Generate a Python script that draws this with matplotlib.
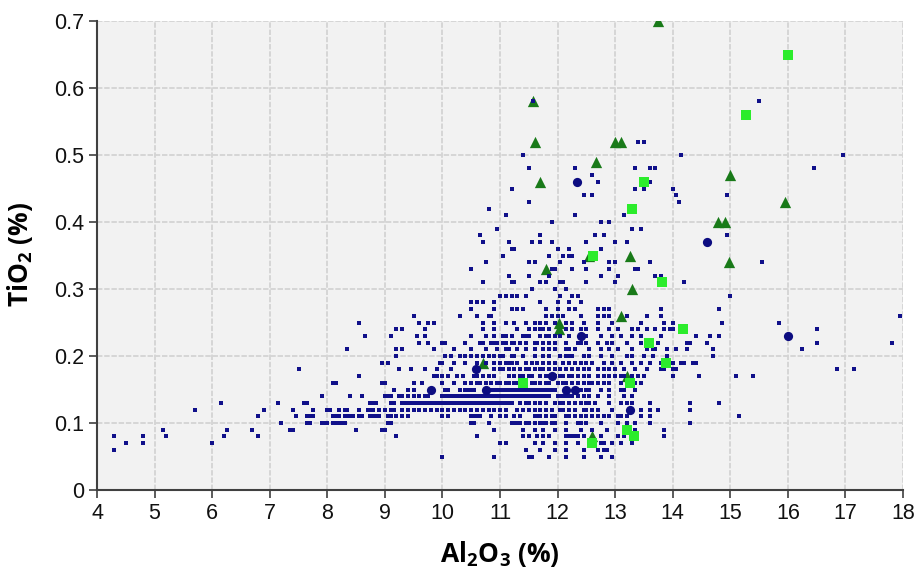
import numpy as np
import matplotlib
matplotlib.use("Agg")
import matplotlib.pyplot as plt

# small navy dots: Al2O3 values for every TiO2 level (TiO2 read in steps of 0.01)
al_005 = [10.0, 10.9, 11.5, 11.55, 11.85, 12.15, 12.45, 12.75, 12.95]
al_006 = [4.3, 11.45, 11.7, 11.95, 12.15, 12.45, 12.7, 12.8, 12.85]
al_007 = [4.5, 4.8, 6.0, 11.0, 11.1, 11.6, 11.75, 11.95, 12.15, 12.35, 12.75, 12.8, 12.95, 13.1, 13.3]
al_008 = [4.3, 4.8, 5.2, 6.2, 6.8, 9.2, 10.6, 11.4, 11.5, 11.65, 11.75, 11.85, 12.15, 12.2, 12.25,
          12.3, 12.35, 12.45, 12.75, 13.05, 13.15, 13.85]
al_009 = [5.15, 6.25, 6.7, 7.35, 7.4, 8.5, 8.95, 9.0, 10.9, 11.4, 11.6, 11.75, 11.95, 12.15, 12.4,
          12.6, 12.85, 13.35, 13.85]
al_010 = [7.2, 7.65, 7.7, 7.9, 7.95, 8.0, 8.1, 8.15, 8.2, 8.25, 8.3, 9.05, 9.1, 10.5, 10.55, 10.8,
          11.2, 11.25, 11.3, 11.35, 11.45, 11.5, 11.6, 11.7, 11.75, 11.8, 11.9, 11.95, 12.15, 12.35,
          12.4, 12.5, 12.75, 13.05, 13.2, 13.35, 13.6, 14.3]
al_011 = [6.8, 7.45, 7.65, 7.7, 7.75, 8.1, 8.15, 8.2, 8.3, 8.35, 8.4, 8.45, 8.55, 8.6, 8.75, 8.8,
          8.85, 8.9, 9.05, 9.1, 9.2, 9.3, 9.4, 10.0, 10.1, 10.5, 10.55, 10.6, 10.65, 10.85, 11.0,
          11.1, 11.25, 11.35, 11.6, 11.65, 11.7, 11.8, 11.9, 11.95, 12.15, 12.2, 12.3,
          12.4, 12.5, 12.6, 12.7, 12.8, 12.9, 13.05, 13.1, 13.2, 13.45, 13.6, 15.15]
al_012 = [5.7, 6.9, 7.4, 7.75, 8.0, 8.05, 8.2, 8.3, 8.35, 8.55, 8.7, 8.75, 8.8, 8.9,
          9.0, 9.1, 9.15, 9.3, 9.4, 9.5, 9.6, 9.7, 9.8, 9.9, 10.0, 10.1, 10.2, 10.3,
          10.4, 10.5, 10.6, 10.7, 10.8, 10.9, 11.0, 11.1, 11.3, 11.4, 11.5, 11.6, 11.7, 11.8, 11.9,
          12.05, 12.1, 12.2, 12.3, 12.45, 12.5, 12.6, 12.7, 12.95, 13.45, 13.6, 13.75, 14.3]
al_013 = [6.15, 7.15, 7.6, 7.65, 8.75, 8.8, 8.85, 9.1, 9.15, 9.3, 9.35, 9.4, 9.45, 9.5, 9.55,
          9.6, 9.65, 9.7, 9.75, 9.8, 9.85, 9.9, 9.95, 10.0, 10.05, 10.1, 10.15, 10.2, 10.25, 10.3,
          10.35, 10.4, 10.45, 10.5, 10.55, 10.6, 10.65, 10.7, 10.75, 10.8, 10.85, 10.9, 10.95, 11.0,
          11.05, 11.1, 11.15, 11.2, 11.35, 11.45, 11.5, 11.6, 11.7, 11.8, 11.95,
          12.05, 12.1, 12.2, 12.3, 12.4, 12.5, 12.55, 12.65, 12.9, 13.1, 13.2,
          13.3, 13.6, 14.3, 14.8]
al_014 = [7.9, 8.4, 8.6, 9.0, 9.05, 9.1, 9.25, 9.3, 9.4, 9.5, 9.6, 9.7, 9.75, 10.0, 10.05, 10.1,
          10.15, 10.2, 10.25, 10.3, 10.35, 10.4, 10.45, 10.5, 10.55, 10.6, 10.65, 10.7, 10.75, 10.8,
          10.85, 10.9, 10.95, 11.0, 11.05, 11.1, 11.15, 11.2, 11.25, 11.3, 11.35, 11.4, 11.45, 11.5,
          11.55, 11.6, 11.65, 11.7, 11.75, 11.8, 11.85, 12.0, 12.05, 12.1, 12.15, 12.2, 12.25,
          12.35, 12.45, 12.55, 12.7, 12.9, 13.15, 13.3]
al_015 = [9.15, 9.4, 9.5, 10.05, 10.1, 10.3, 10.4, 10.45, 10.5, 10.55, 10.8, 10.85, 10.9,
          10.95, 11.0, 11.05, 11.1, 11.15, 11.2, 11.25, 11.3, 11.35, 11.4, 11.45, 11.5, 11.55, 11.6,
          11.65, 11.7, 11.75, 11.8, 11.85, 11.9, 11.95, 12.4, 12.5, 12.55, 12.75, 12.9, 13.1,
          13.15, 13.35]
al_016 = [8.1, 8.15, 8.95, 9.0, 9.5, 9.65, 10.0, 10.2, 10.4, 10.5, 10.6, 10.65,
          10.75, 10.85, 10.95, 11.0, 11.1, 11.15, 11.25, 11.3, 11.45, 11.55, 11.6, 11.7, 11.8,
          11.85, 12.0, 12.1, 12.15, 12.25, 12.35, 12.45, 12.55, 12.6, 12.7, 12.8, 12.9,
          13.1, 13.35, 13.45]
al_017 = [8.55, 9.85, 9.9, 10.0, 10.1, 10.25, 10.35, 10.55, 10.6, 10.7, 10.8, 10.9, 11.15,
          11.25, 11.35, 11.4, 11.5, 11.55, 11.7, 11.8, 11.85, 11.95, 12.05, 12.1, 12.2, 12.25, 12.35,
          12.45, 12.55, 12.7, 12.8, 12.9, 13.0, 13.1, 13.15, 13.3, 13.4, 13.5, 14.0, 14.45, 15.1, 15.4]
al_018 = [7.5, 9.25, 9.45, 9.7, 9.9, 10.15, 10.9, 11.0, 11.05, 11.15, 11.25, 11.35, 11.45, 11.5,
          11.6, 11.7, 11.75, 11.85, 11.95, 12.05, 12.15, 12.25, 12.35, 12.45, 12.55, 12.7, 12.8,
          12.9, 13.0, 13.15, 13.35, 13.55, 13.8, 13.85, 14.0, 14.05, 16.85, 17.15]
al_019 = [8.95, 9.05, 9.95, 10.0, 10.2, 10.4, 10.6, 10.75, 10.9, 11.0, 11.1, 11.15, 11.2,
          11.3, 11.45, 11.55, 11.65, 11.75, 11.85, 11.95, 12.1, 12.2, 12.3, 12.4, 12.5, 12.6, 12.8,
          12.95, 13.1, 13.3, 13.45, 13.6, 13.8, 14.0, 14.15, 14.2, 14.35, 14.4]
al_020 = [9.2, 10.05, 10.15, 10.3, 10.4, 10.5, 10.6, 10.7, 10.8, 10.9, 11.0, 11.05,
          11.2, 11.25, 11.4, 11.6, 11.75, 11.85, 12.05, 12.15, 12.2, 12.25, 12.45,
          12.55, 12.75, 12.95, 13.2, 13.3, 13.5, 13.65, 13.9, 14.7]
al_021 = [8.35, 9.2, 9.3, 9.85, 10.2, 10.5, 10.75, 10.95, 11.1, 11.15, 11.3, 11.45, 11.6, 11.75,
          11.85, 11.95, 12.15, 12.2, 12.3, 12.55, 12.75, 12.9, 13.05, 13.3, 13.55, 13.65, 13.7, 13.9,
          14.05, 14.25, 14.7, 16.25]
al_022 = [9.6, 9.75, 10.0, 10.05, 10.4, 10.65, 10.7, 10.85, 10.9, 10.95, 11.05, 11.1, 11.2, 11.25,
          11.35, 11.45, 11.6, 11.65, 11.75, 11.85, 11.95, 12.15, 12.35, 12.4, 12.5, 12.7, 12.85,
          12.95, 13.2, 13.45, 13.75, 14.25, 14.3, 14.6, 16.5, 17.8]
al_023 = [8.65, 9.1, 9.55, 9.7, 10.5, 10.75, 10.9, 11.05, 11.1, 11.2, 11.4, 11.45, 11.5, 11.7,
          11.8, 11.85, 11.95, 12.05, 12.2, 12.45, 12.5, 12.75, 12.95, 13.1, 13.3, 13.45, 13.8, 14.4,
          14.65, 14.8]
al_024 = [9.2, 9.3, 9.7, 10.7, 10.9, 11.3, 11.5, 11.6, 11.7, 11.75, 11.85, 12.15, 12.25, 12.4,
          12.5, 12.7, 12.9, 13.05, 13.3, 13.4, 13.55, 13.7, 13.85, 13.95, 14.0, 16.5]
al_025 = [8.55, 9.6, 9.75, 9.85, 10.7, 10.9, 11.1, 11.25, 11.45, 11.6, 11.7, 11.8, 11.95, 12.15,
          12.25, 12.45, 12.7, 12.95, 13.45, 13.85, 14.0, 14.85, 15.85]
al_026 = [9.5, 10.3, 10.6, 10.8, 10.85, 11.8, 11.9, 12.0, 12.1, 12.4, 12.7, 12.8, 12.9, 13.2,
          13.55, 13.8, 17.95]
al_027 = [10.5, 10.9, 11.2, 11.3, 11.4, 11.8, 12.0, 12.2, 12.3, 12.7, 12.8, 12.9, 13.8, 14.8]
al_028 = [10.5, 10.6, 10.7, 10.9, 11.7, 12.0, 12.2, 12.4]
al_029 = [11.0, 11.1, 11.2, 11.3, 11.45, 12.05, 12.25, 12.35, 15.0]
al_030 = [11.55, 11.95, 12.15]
al_031 = [10.7, 11.2, 11.25, 11.7, 11.8, 12.05, 12.1, 12.5, 13.0, 14.2]
al_032 = [11.15, 11.5, 11.85, 12.75, 13.05, 13.7, 13.8]
al_033 = [10.5, 11.9, 11.95, 12.25, 12.5, 12.9, 13.35, 13.4]
al_034 = [10.75, 11.5, 11.6, 12.05, 12.45, 12.9, 13.0, 13.6, 15.55]
al_035 = [11.05, 11.85, 12.1, 12.2, 12.25]
al_036 = [11.2, 11.25, 12.0, 12.2, 12.75]
al_037 = [10.7, 11.15, 11.55, 11.7, 11.9, 12.5, 13.0, 13.2]
al_038 = [10.65, 11.7, 12.65, 12.8, 14.95]
al_039 = [10.95, 13.3, 13.45]
al_040 = [11.9, 12.75, 12.9]
al_041 = [11.1, 12.3, 13.15]
al_042 = [10.8]
al_043 = [11.5, 14.1]
al_044 = [12.45, 12.6, 14.05, 14.95]
al_045 = [11.2, 13.35, 13.5, 14.0]
al_046 = [12.7, 13.6]
al_047 = [12.6]
al_048 = [11.5, 12.3, 13.35, 13.6, 13.7, 16.45]
al_050 = [11.4, 14.15, 16.95]
al_052 = [13.4, 13.5]
al_058 = [11.58, 15.5]

ti_levels = [0.05, 0.06, 0.07, 0.08, 0.09, 0.10, 0.11, 0.12, 0.13, 0.14, 0.15, 0.16, 0.17, 0.18,
             0.19, 0.20, 0.21, 0.22, 0.23, 0.24, 0.25, 0.26, 0.27, 0.28, 0.29, 0.30, 0.31, 0.32,
             0.33, 0.34, 0.35, 0.36, 0.37, 0.38, 0.39, 0.40, 0.41, 0.42, 0.43, 0.44, 0.45, 0.46,
             0.47, 0.48, 0.50, 0.52, 0.58]
al_rows = [al_005, al_006, al_007, al_008, al_009, al_010, al_011, al_012, al_013, al_014, al_015,
           al_016, al_017, al_018, al_019, al_020, al_021, al_022, al_023, al_024, al_025, al_026,
           al_027, al_028, al_029, al_030, al_031, al_032, al_033, al_034, al_035, al_036, al_037,
           al_038, al_039, al_040, al_041, al_042, al_043, al_044, al_045, al_046, al_047, al_048,
           al_050, al_052, al_058]

# larger navy circles
circle_al = [9.8, 10.58, 10.75, 11.9, 12.15, 12.3, 12.4, 12.33, 13.25, 14.6, 16.0]
circle_ti = [0.15, 0.18, 0.15, 0.17, 0.15, 0.15, 0.23, 0.46, 0.12, 0.37, 0.23]

# dark green triangles
tri_al = [13.75, 11.58, 11.6, 13.0, 13.1, 12.66, 11.7, 15.0, 15.95, 14.78, 14.9, 12.55, 13.26,
          11.8, 13.3, 14.97, 13.1, 12.02, 12.02, 10.7, 13.2, 12.6]
tri_ti = [0.70, 0.58, 0.52, 0.52, 0.52, 0.49, 0.46, 0.47, 0.43, 0.40, 0.40, 0.35, 0.35, 0.33,
          0.30, 0.34, 0.26, 0.25, 0.24, 0.19, 0.17, 0.08]

# light green squares
sq_al = [16.0, 15.27, 13.5, 13.29, 12.62, 13.81, 14.17, 13.59, 13.88, 11.4, 13.25, 13.2, 13.33, 12.6]
sq_ti = [0.65, 0.56, 0.46, 0.42, 0.35, 0.31, 0.24, 0.22, 0.19, 0.16, 0.16, 0.09, 0.08, 0.07]

x_ticks = list(range(4, 19))
y_ticks = [0, 0.1, 0.2, 0.3, 0.4, 0.5, 0.6, 0.7]
y_labels = ["0", "0.1", "0.2", "0.3", "0.4", "0.5", "0.6", "0.7"]

dot_al = [a for row in al_rows for a in row]
dot_ti = [t for t, row in zip(ti_levels, al_rows) for _ in row]

plt.rcParams["font.family"] = ["Liberation Sans", "DejaVu Sans"]
plt.rcParams["mathtext.fontset"] = "custom"
plt.rcParams["mathtext.rm"] = "Open Sans"
plt.rcParams["mathtext.bf"] = "Open Sans:bold"

fig = plt.figure(figsize=(9.18, 5.79), dpi=100)
ax = fig.add_axes([0.1057, 0.1537, 0.8780, 0.8100])
ax.set_facecolor("#f2f2f2")

ax.scatter(tri_al, tri_ti, marker="^", s=66, color="#197a19", linewidths=0, zorder=3)
ax.scatter(dot_al, dot_ti, marker="s", s=5.5, color="#10108a", linewidths=0, zorder=4)
ax.scatter(sq_al, sq_ti, marker="s", s=48, color="#2cec2c", linewidths=0, zorder=5)
ax.scatter(circle_al, circle_ti, marker="o", s=44, color="#0c0c80", linewidths=0, zorder=6)

ax.set_xlim(4, 18)
ax.set_ylim(0, 0.7)
ax.set_xticks(x_ticks)
ax.set_yticks(y_ticks)
ax.set_yticklabels(y_labels)
ax.tick_params(labelsize=15.5, length=6, width=1.2, color="#404040", labelcolor="#111111")
ax.grid(True, color="#d4d4d4", linestyle=(0, (3, 1)), linewidth=1.3, zorder=0)
ax.set_axisbelow(True)
for side in ["top", "right"]:
    ax.spines[side].set_visible(False)
for side in ["left", "bottom"]:
    ax.spines[side].set_color("#404040")
    ax.spines[side].set_linewidth(1.5)

fig.text(0.545, 0.018, r"Al$_\mathbf{2}$O$_\mathbf{3}$ (%)", family="Open Sans", fontweight="bold",
         fontsize=19, ha="center", va="bottom")
fig.text(0.022, 0.56, r"TiO$_\mathbf{2}$ (%)", family="Open Sans", fontweight="bold",
         fontsize=19, ha="center", va="center", rotation=90)

fig.savefig("out.png", dpi=100)
